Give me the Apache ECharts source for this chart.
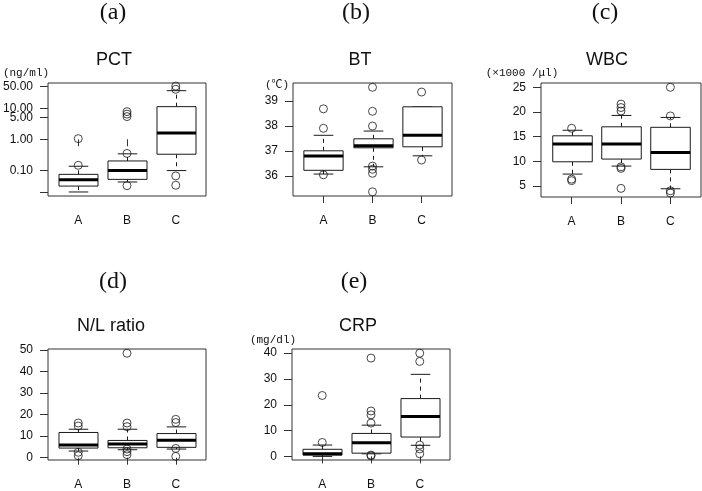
<!DOCTYPE html>
<html>
<head>
<meta charset="utf-8">
<script src="https://cdn.jsdelivr.net/npm/echarts@6/dist/echarts.min.js"></script>
<style>html,body{margin:0;padding:0;background:#fff}#c{width:702px;height:491px}</style>
</head>
<body>
<div id="c"></div>
<script>
// ---- data ----
const categories = ['A', 'B', 'C'];
// box stats per group: [lower whisker, Q1, median, Q3, upper whisker]
const pctStats = [[0.020, 0.031, 0.050, 0.074, 0.135], [0.042, 0.051, 0.098, 0.20, 0.34], [0.098, 0.33, 1.6, 11.3, 37]];
const pctOutliers = [[0.145, 1.05], [0.35, 0.032, 7.8, 6.5, 5.4], [52, 41, 0.066, 0.033]];
const pctTicks = [0.02, 0.1, 1, 5, 10, 50];
const pctTickLabels = [0.1, 1, 5, 10, 50];

const btStats = [[36.07, 36.22, 36.79, 37.0, 37.62], [36.36, 37.12, 37.2, 37.48, 37.79], [36.8, 37.16, 37.62, 38.76, 38.76]];
const btOutliers = [[38.68, 37.9, 36.04], [39.54, 38.58, 37.99, 36.39, 36.26, 36.1, 35.36], [39.35, 36.63]];
const btTicks = [36, 37, 38, 39];

const wbcStats = [[7.43, 9.92, 13.5, 15.18, 16.3], [9.05, 10.47, 13.5, 17.0, 19.3], [4.46, 8.38, 11.8, 16.9, 18.9]];
const wbcOutliers = [[16.7, 6.4, 6.1], [21.6, 20.9, 20.2, 8.9, 8.58, 4.53], [25.0, 19.2, 4.05, 3.6]];
const wbcTicks = [5, 10, 15, 20, 25];

const nlStats = [[3.08, 4.46, 5.84, 11.7, 13.2], [3.7, 4.6, 6.4, 8.0, 13.2], [4.0, 4.8, 8.1, 11.2, 14.3]];
const nlOutliers = [[16.1, 14.7, 2.5, 0.9], [48.5, 16.1, 14.4, 4.0, 2.8, 1.4], [17.8, 16.3, 4.3, 0.6]];
const nlTicks = [0, 10, 20, 30, 40, 50];

const crpStats = [[0.0, 0.5, 1.0, 2.75, 4.4], [1.0, 1.25, 5.3, 8.9, 12.1], [4.3, 7.5, 15.5, 22.4, 31.8]];
const crpOutliers = [[23.6, 5.4], [38.1, 17.6, 16.1, 12.9, 0.5, 0.2], [40.0, 36.8, 4.4, 2.9, 1.0]];
const crpTicks = [0, 10, 20, 30, 40];

// ---- layout / style ----
const FONT = 'Liberation Sans, Arial, sans-serif';
const INK = '#1a1a1a';
const log10 = v => Math.log10(v);
const ident = v => v;

const panels = [
  {stats: pctStats, out: pctOutliers, ticks: pctTicks, labels: pctTickLabels, tf: log10,
   fmt: v => Math.pow(10, v).toFixed(2), grid: {left: 48, top: 83, width: 158, height: 113}, min: -1.829, max: 1.816},
  {stats: btStats, out: btOutliers, ticks: btTicks, labels: btTicks, tf: ident,
   fmt: v => String(v), grid: {left: 293, top: 83, width: 159, height: 113}, min: 35.192, max: 39.712},
  {stats: wbcStats, out: wbcOutliers, ticks: wbcTicks, labels: wbcTicks, tf: ident,
   fmt: v => String(v), grid: {left: 541, top: 83, width: 160, height: 114}, min: 2.79, max: 25.87},
  {stats: nlStats, out: nlOutliers, ticks: nlTicks, labels: nlTicks, tf: ident,
   fmt: v => String(v), grid: {left: 48, top: 349, width: 158, height: 112}, min: -1.08, max: 50.46},
  {stats: crpStats, out: crpOutliers, ticks: crpTicks, labels: crpTicks, tf: ident,
   fmt: v => String(v), grid: {left: 292, top: 349, width: 158, height: 114}, min: -1.4, max: 41.62}
];

function renderBox(params, api) {
  const x = api.value(0);
  const ys = [1, 2, 3, 4, 5].map(i => api.coord([x, api.value(i)])[1]);
  const cx = Math.round(api.coord([x, api.value(3)])[0]) + 0.5;
  const hw = api.size([0.4, 0])[0];
  const cw = api.size([0.2, 0])[0];
  const st = {stroke: INK, lineWidth: 1, fill: null};
  const dash = {stroke: INK, lineWidth: 1, lineDash: [4, 4]};
  return {
    type: 'group',
    children: [
      {type: 'line', shape: {x1: cx, y1: ys[3], x2: cx, y2: ys[4]}, style: dash},
      {type: 'line', shape: {x1: cx, y1: ys[1], x2: cx, y2: ys[0]}, style: dash},
      {type: 'line', shape: {x1: cx - cw, y1: ys[4], x2: cx + cw, y2: ys[4]}, style: st},
      {type: 'line', shape: {x1: cx - cw, y1: ys[0], x2: cx + cw, y2: ys[0]}, style: st},
      {type: 'rect', shape: {x: cx - hw, y: ys[3], width: 2 * hw, height: ys[1] - ys[3]},
       style: {stroke: INK, lineWidth: 1, fill: '#fff'}},
      {type: 'line', shape: {x1: cx - hw, y1: ys[2], x2: cx + hw, y2: ys[2]}, style: {stroke: '#000', lineWidth: 3}}
    ]
  };
}

const grids = [], xAxes = [], yAxes = [], series = [];
panels.forEach((p, i) => {
  grids.push(Object.assign({show: true, borderColor: '#333', borderWidth: 1, backgroundColor: 'transparent'}, p.grid));
  xAxes.push({
    type: 'value', gridIndex: i, min: 0.38, max: 3.62,
    axisLine: {show: false}, splitLine: {show: false},
    axisTick: {show: true, length: 7, customValues: [1, 2, 3], lineStyle: {color: '#333'}},
    axisLabel: {customValues: [1, 2, 3], formatter: v => categories[Math.round(v) - 1] || '',
      fontFamily: FONT, fontSize: 12, color: '#111', margin: 19}
  });
  yAxes.push({
    type: 'value', gridIndex: i, min: p.min, max: p.max,
    axisLine: {show: false}, splitLine: {show: false},
    axisTick: {show: true, length: 8, customValues: p.ticks.map(p.tf), lineStyle: {color: '#333'}},
    axisLabel: {customValues: p.labels.map(p.tf), formatter: p.fmt,
      fontFamily: FONT, fontSize: 12, color: '#111', margin: 15}
  });
  series.push({
    type: 'custom', xAxisIndex: i, yAxisIndex: i, renderItem: renderBox, clip: false,
    encode: {x: 0, y: [1, 2, 3, 4, 5]},
    data: p.stats.map((s, g) => [g + 1].concat(s.map(p.tf)))
  });
  const pts = [];
  p.out.forEach((arr, g) => arr.forEach(v => pts.push([g + 1, p.tf(v)])));
  series.push({
    type: 'scatter', xAxisIndex: i, yAxisIndex: i, symbol: 'circle', symbolSize: 8, z: 5,
    itemStyle: {color: 'rgba(0,0,0,0)', borderColor: INK, borderWidth: 1},
    silent: true, data: pts
  });
});

function txt(x, y, text, font, size, align) {
  return {type: 'text', x: x, y: y, style: {text: text, fontFamily: font, fontSize: size,
    fill: '#111', align: align || 'center', verticalAlign: 'middle'}};
}
const SERIF = 'Liberation Serif, Times New Roman, serif';
const MONO = 'Liberation Mono, Noto Sans CJK JP, monospace';
const graphics = [
  txt(113, 13, '(a)', SERIF, 24), txt(356, 13, '(b)', SERIF, 24), txt(605, 13, '(c)', SERIF, 24),
  txt(113, 282, '(d)', SERIF, 24), txt(354, 282, '(e)', SERIF, 24),
  txt(114, 60, 'PCT', FONT, 18), txt(360, 60, 'BT', FONT, 18), txt(607, 60, 'WBC', FONT, 18),
  txt(111, 326, 'N/L ratio', FONT, 18), txt(358, 326, 'CRP', FONT, 18),
  txt(26, 73, '(ng/ml)', MONO, 11), txt(277, 85, '(℃)', MONO, 11),
  txt(522, 73, '(×1000 /μl)', MONO, 11), txt(273, 340, '(mg/dl)', MONO, 11)
];

const chart = echarts.init(document.getElementById('c'), null, {renderer: 'canvas'});
chart.setOption({
  animation: false,
  grid: grids, xAxis: xAxes, yAxis: yAxes, series: series,
  graphic: graphics
});
</script>
</body>
</html>
